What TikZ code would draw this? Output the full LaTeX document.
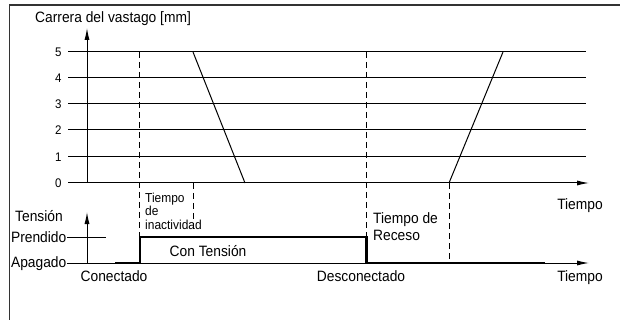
\documentclass[tikz,border=0pt]{standalone}
\usepackage{fontspec}
\setmainfont{Liberation Sans}[FakeStretch=0.92]
\usetikzlibrary{arrows.meta}
\tikzset{
  lbl/.style={inner sep=0pt, font=\fontsize{15}{17}\selectfont},
  num/.style={inner sep=0pt, font=\fontsize{12.5}{14}\selectfont},
  smalltxt/.style={inner sep=0pt, align=left, font=\fontsize{13}{13.5}\selectfont},
  gridline/.style={line width=1pt},
  axisline/.style={line width=1pt, -{Latex[length=12pt,width=5pt]}},
  dashline/.style={line width=1pt, dash pattern=on 6pt off 4pt},
  signal/.style={line width=2.5pt},
}
\begin{document}
\begin{tikzpicture}[x=1pt,y=-1pt]
\useasboundingbox (0,0) rectangle (620,320);
\fill[white] (0,0) rectangle (620,320);
% frame
\draw[line width=1.3pt, black!80] (9.5,320) -- (9.5,5) -- (620,5);
% title
\node[lbl, anchor=base west] (title) at (35,23) {Carrera del vastago [mm]};
% grid lines and tick labels
\foreach \v/\y in {5/52,4/78,3/104,2/130,1/157} {
  \draw[gridline] (68,\y) -- (586,\y);
}
\foreach \v/\y in {5/52,4/78,3/104,2/130,1/157,0/183} {
  \node[num, anchor=base east] (t\v) at (61.7,\y+4.4) {\v};
}
% upper axes
\coordinate (o1) at (87,183);
\coordinate (ytip1) at (87,28);
\coordinate (x0) at (68,183);
\coordinate (xtip1) at (589,183);
\draw[axisline] (o1) -- (ytip1);
\draw[axisline] (x0) -- (xtip1);
% stroke curve
\draw[line width=1pt] (193,52) -- (245,183);
\draw[line width=1pt] (449,183) -- (503,52);
% dashed lines
\draw[dashline] (139.5,52) -- (139.5,237);
\draw[dashline] (193,183) -- (193,230);
\draw[dashline] (366.5,52) -- (366.5,237);
\draw[dashline] (449,183) -- (449,263);
% lower axes
\coordinate (o2) at (87,263);
\coordinate (ytip2) at (87,212);
\coordinate (x2) at (67,263);
\coordinate (xtip2) at (589,263);
\draw[axisline] (o2) -- (ytip2);
\draw[axisline] (x2) -- (xtip2);
\draw[line width=1pt] (67,237) -- (106,237);
% signal
\draw[signal] (115,263) -- (140,263) -- (140,237) -- (366.5,237) -- (366.5,263) -- (545,263);
% labels
\node[lbl, anchor=base west] (tension) at (15,221.5) {Tensión};
\node[lbl, anchor=base east] (prendido) at (66.5,242) {Prendido};
\node[lbl, anchor=base east] (apagado) at (66.5,267.5) {Apagado};
\node[lbl, anchor=base] (contension) at (208,256) {Con Tensión};
\node[lbl, anchor=base] (conectado) at (114,281.5) {Conectado};
\node[lbl, anchor=base] (desconectado) at (361,281.5) {Desconectado};
\node[lbl, anchor=base] (tiempo1) at (580,209) {Tiempo};
\node[lbl, anchor=base] (tiempo2) at (580,281.5) {Tiempo};
\node[smalltxt, anchor=north west] (inact) at (145,192.5) {Tiempo\\de\\inactividad};
\node[lbl, anchor=north west, align=left] (receso) at (373,212) {Tiempo de\\Receso};
\end{tikzpicture}
\end{document}
